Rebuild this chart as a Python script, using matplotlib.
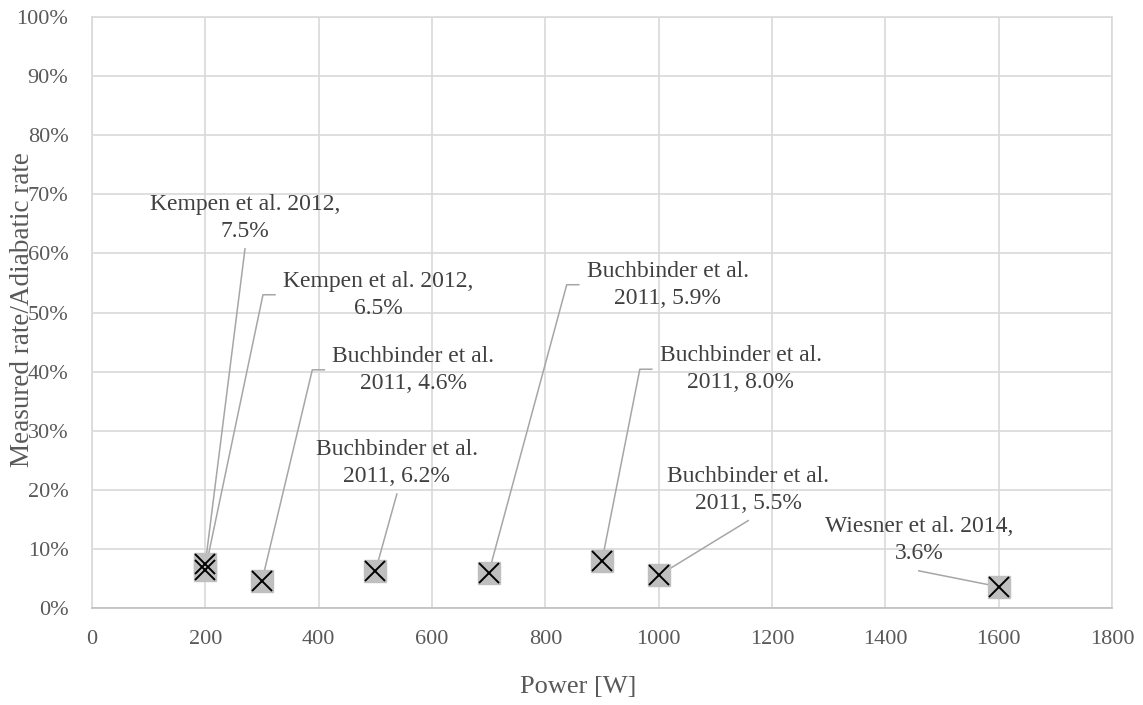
import matplotlib
matplotlib.use("Agg")
import matplotlib.pyplot as plt
from matplotlib.ticker import FuncFormatter, MultipleLocator

# ---- data ----
power_w = [200, 200, 300, 500, 700, 900, 1000, 1600]
rate_pct = [7.5, 6.5, 4.6, 6.2, 5.9, 8.0, 5.5, 3.6]
point_labels = [
    "Kempen et al. 2012,\n7.5%",
    "Kempen et al. 2012,\n6.5%",
    "Buchbinder et al.\n2011, 4.6%",
    "Buchbinder et al.\n2011, 6.2%",
    "Buchbinder et al.\n2011, 5.9%",
    "Buchbinder et al.\n2011, 8.0%",
    "Buchbinder et al.\n2011, 5.5%",
    "Wiesner et al. 2014,\n3.6%",
]
x_label = "Power [W]"
y_label = "Measured rate/Adiabatic rate"

# ---- layout of the data labels (label centres, in data units) ----
label_x = [270, 505, 567, 538, 1016, 1145, 1158, 1459]
label_y = [66.0, 53.0, 40.3, 24.5, 54.7, 40.4, 20.0, 11.5]
leader_side = ["bottom", "left", "left", "bottom", "left", "left", "bottom", "bottom"]

plt.rcParams["font.family"] = ["Liberation Serif", "DejaVu Serif"]

W, H = 1143, 705
fig = plt.figure(figsize=(W / 100, H / 100), dpi=100)
ax = fig.add_axes([92 / W, 1 - 608 / H, (1112 - 92) / W, (608 - 17) / H])

grid_c = "#D9D9D9"
ax.set_xlim(0, 1800)
ax.set_ylim(0, 100)
ax.xaxis.set_major_locator(MultipleLocator(200))
ax.yaxis.set_major_locator(MultipleLocator(10))
ax.yaxis.set_major_formatter(FuncFormatter(lambda v, p: f"{v:.0f}%"))
ax.grid(True, color=grid_c, linewidth=1.2)
ax.set_axisbelow(True)
for s in ["top", "right", "left"]:
    ax.spines[s].set_color(grid_c)
    ax.spines[s].set_linewidth(1.2)
ax.spines["bottom"].set_color("#BFBFBF")
ax.spines["bottom"].set_linewidth(1.2)
ax.tick_params(axis="both", length=0, labelsize=16, colors="#595959")
ax.tick_params(axis="y", pad=17)
ax.tick_params(axis="x", pad=16)

# markers: grey square with black cross
ax.plot(power_w, rate_pct, linestyle="none", marker="s", markersize=15.5,
        markerfacecolor="#BFBFBF", markeredgecolor="#BFBFBF", zorder=3)
ax.plot(power_w, rate_pct, linestyle="none", marker="x", markersize=14.5,
        markeredgecolor="black", markeredgewidth=1.4, zorder=4)

texts = []
for lx, ly, lab in zip(label_x, label_y, point_labels):
    t = ax.text(lx, ly, lab, ha="center", va="center", fontsize=17,
                color="#404040", linespacing=1.35, zorder=5)
    texts.append(t)

fig.text(23 / W, 1 - 310 / H, y_label, rotation=90, ha="center", va="center",
         fontsize=19.5, color="#595959")
fig.text(578 / W, 1 - 687 / H, x_label, ha="center", va="center",
         fontsize=19, color="#595959")

# leader lines
fig.canvas.draw()
r = fig.canvas.get_renderer()
inv = ax.transData.inverted()
for t, px, py, side in zip(texts, power_w, rate_pct, leader_side):
    bb = t.get_window_extent(renderer=r)
    end = ax.transData.transform((px, py))
    if side == "bottom":
        pts = [((bb.x0 + bb.x1) / 2, bb.y0 - 7), tuple(end)]
    else:
        ym = (bb.y0 + bb.y1) / 2
        pts = [(bb.x0 - 8, ym), (bb.x0 - 20, ym), tuple(end)]
    dpts = inv.transform(pts)
    ax.plot(dpts[:, 0], dpts[:, 1], color="#A6A6A6", linewidth=1.1,
            zorder=2.5, clip_on=False)

fig.savefig("out.png", dpi=100, facecolor="white")
